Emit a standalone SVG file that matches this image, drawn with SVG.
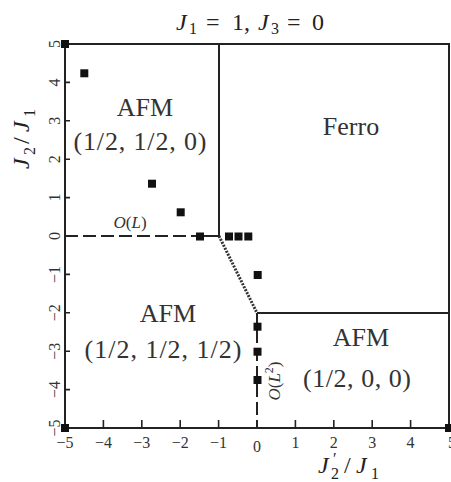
<svg xmlns="http://www.w3.org/2000/svg" width="451" height="482" viewBox="0 0 451 482">
<style>
.ln{stroke:#222;stroke-width:2;fill:none}
.dash{stroke:#222;stroke-width:2;fill:none;stroke-dasharray:13 5}
.dot{stroke:#333;stroke-width:3;fill:none;stroke-dasharray:2 1.3}
.tk{stroke:#222;stroke-width:1.6}
.pt{fill:#111}
.big{font-family:"Liberation Serif","DejaVu Serif",serif;font-size:26px;fill:#333;text-anchor:middle}
.num{font-family:"Liberation Serif","DejaVu Serif",serif;font-size:16px;fill:#333;text-anchor:middle}
.m{font-family:"Liberation Serif","DejaVu Serif",serif;font-size:24px;fill:#222}
.s{font-family:"Liberation Serif","DejaVu Serif",serif;font-size:16px;fill:#222}
.it{font-style:italic}
.lab{font-family:"Liberation Serif","DejaVu Serif",serif;font-size:17px;fill:#333;text-anchor:middle}
</style>
<rect width="451" height="482" fill="#fff"/>
<g id="title">
<text class="m it" x="176" y="30">J</text><text class="s" x="189" y="34">1</text>
<text class="m" x="206" y="30">=</text><text class="m" x="232" y="30">1,</text>
<text class="m it" x="258" y="30">J</text><text class="s" x="271" y="34">3</text>
<text class="m" x="287" y="30">=</text><text class="m" x="312" y="30">0</text>
</g>
<g id="axes">
<path class="ln" d="M65,44H449V428H65Z"/>
<g class="tk">
<path d="M103.4,428V420M141.8,428V420M180.2,428V420M218.6,428V420M257,428V420M295.4,428V420M333.8,428V420M372.2,428V420M410.6,428V420"/>
<path d="M65,82.4H70M65,120.8H70M65,159.2H70M65,197.6H70M65,236H70M65,274.4H70M65,312.8H70M65,351.2H70M65,389.6H70"/>
</g>
<g class="num">
<text x="65" y="448">−5</text><text x="103.4" y="448">−4</text><text x="141.8" y="448">−3</text><text x="180.2" y="448">−2</text><text x="218.6" y="448">−1</text><text x="257" y="452">0</text><text x="295.4" y="448">1</text><text x="333.8" y="448">2</text><text x="372.2" y="448">3</text><text x="410.6" y="448">4</text><text x="452" y="448">5</text>
</g>
<g class="num">
<text transform="translate(60,44) rotate(-90)">5</text>
<text transform="translate(60,82.4) rotate(-90)">4</text>
<text transform="translate(60,120.8) rotate(-90)">3</text>
<text transform="translate(60,159.2) rotate(-90)">2</text>
<text transform="translate(60,197.6) rotate(-90)">1</text>
<text transform="translate(60,236) rotate(-90)">0</text>
<text transform="translate(60,274.4) rotate(-90)">−1</text>
<text transform="translate(60,312.8) rotate(-90)">−2</text>
<text transform="translate(60,351.2) rotate(-90)">−3</text>
<text transform="translate(60,389.6) rotate(-90)">−4</text>
<text transform="translate(60,428) rotate(-90)">−5</text>
</g>
<g id="xlabel">
<text class="m it" x="318" y="473" font-size="25">J</text>
<text class="s" x="333" y="464">′</text>
<text class="s" x="331" y="479" font-size="15">2</text>
<text class="m" x="344" y="473" font-size="25">/</text>
<text class="m it" x="356" y="473" font-size="25">J</text>
<text class="s" x="371" y="479" font-size="15">1</text>
</g>
<g id="ylabel" transform="translate(29,138) rotate(-90)">
<text class="m it" x="-31" y="0" font-size="25">J</text>
<text class="s" x="-17" y="6" font-size="15">2</text>
<text class="m" x="-6" y="0" font-size="25">/</text>
<text class="m it" x="6" y="0" font-size="25">J</text>
<text class="s" x="21" y="6" font-size="15">1</text>
</g>
</g>
<g id="connectors">
<path class="ln" d="M219,44V236H200"/>
<path class="dash" d="M65,236H200"/>
<path class="dot" d="M219,236L257,313"/>
<path class="ln" d="M257,313H449"/>
<path class="ln" d="M257,313V324"/>
<path class="dash" d="M257,330V428"/>
</g>
<g id="afm-half-half-zero"><text class="big" x="145" y="116">AFM</text><text class="big" x="140" y="150" textLength="133" lengthAdjust="spacing">(1/2, 1/2, 0)</text></g>
<g id="ferro"><text class="big" x="351" y="135">Ferro</text></g>
<g id="afm-half-half-half"><text class="big" x="168" y="322">AFM</text><text class="big" x="163" y="358" textLength="157" lengthAdjust="spacing">(1/2, 1/2, 1/2)</text></g>
<g id="afm-half-zero-zero"><text class="big" x="361" y="346">AFM</text><text class="big" x="357" y="387" textLength="108" lengthAdjust="spacing">(1/2, 0, 0)</text></g>
<g id="label-OL"><text class="lab" x="130" y="228"><tspan class="it">O</tspan>(<tspan class="it">L</tspan>)</text></g>
<g id="label-OL2"><text class="lab" transform="translate(280,381) rotate(-90)"><tspan class="it">O</tspan>(<tspan class="it">L</tspan><tspan font-size="12" dy="-7">2</tspan><tspan dy="7">)</tspan></text></g>
<g id="points" class="pt">
<rect x="61" y="40" width="8" height="8"/>
<rect x="61" y="424" width="8" height="8"/>
<rect x="445" y="424" width="8" height="8"/>
<rect x="80.3" y="69.3" width="8" height="8"/>
<rect x="148" y="179.7" width="8" height="8"/>
<rect x="176.7" y="208.3" width="8" height="8"/>
<rect x="196" y="232.5" width="8" height="8"/>
<rect x="225" y="232.5" width="8" height="8"/>
<rect x="234.5" y="232.5" width="8" height="8"/>
<rect x="244.3" y="232.5" width="8" height="8"/>
<rect x="253.7" y="271" width="8" height="8"/>
<rect x="253.5" y="322.7" width="8" height="8"/>
<rect x="253.5" y="347.7" width="8" height="8"/>
<rect x="253.5" y="376" width="8" height="8"/>
</g>
</svg>
